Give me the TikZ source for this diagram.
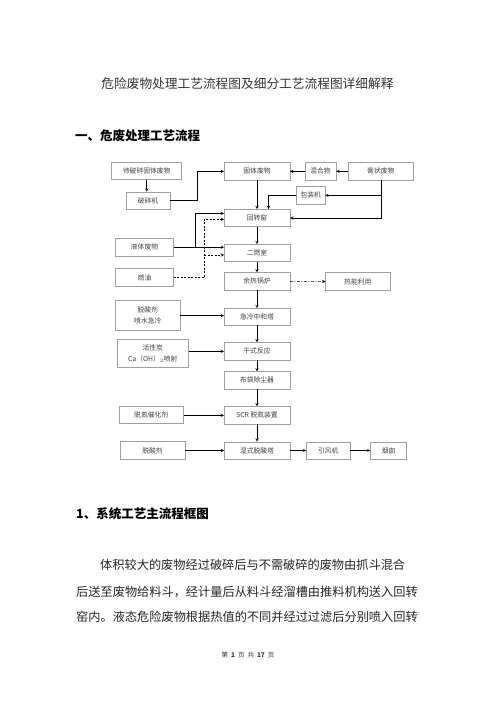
\documentclass[tikz,border=0pt]{standalone}
\usepackage{fontspec}
\newfontfamily\cjk{Noto Sans CJK SC}
\XeTeXlinebreaklocale "zh"
\XeTeXlinebreakskip=0pt plus 2pt
\usetikzlibrary{shadows}
\begin{document}
\begin{tikzpicture}[x=1pt,y=-1pt,>=stealth,font=\cjk,
    box/.style={draw=gray!75,line width=0.45pt,fill=white,inner sep=1pt,minimum height=17.3pt,
      font=\cjk\fontsize{6.8}{9}\selectfont,text=black!75,
      drop shadow={shadow xshift=0.7pt,shadow yshift=-0.7pt,fill=gray!80,opacity=1}},
    mainbox/.style={box,minimum width=65.5pt},
    flow/.style={->,line width=0.5pt},
    oilflow/.style={->,line width=0.5pt,dash pattern=on 2pt off 1.5pt}]
	\path[use as bounding box,fill=white] (0,0) rectangle (496,702);
	\node[font=\cjk\fontsize{12.7}{14}\selectfont,text=black!80] (title) at (247.5,83.3) {危险废物处理工艺流程图及细分工艺流程图详细解释};
	\node[anchor=west,inner sep=0,font=\cjk\bfseries\fontsize{12.5}{14}\selectfont] (heading) at (75,136) {一、危废处理工艺流程};
	\node[box,minimum width=70pt,minimum height=16.6pt] (crushwaste) at (146.7,171) {待破碎固体废物};
	\node[box,minimum width=44pt] (crusher) at (148,200.5) {破碎机};
	\node[mainbox] (solid) at (257,171.3) {固体废物};
	\node[box,minimum width=31pt] (mixture) at (320.5,171.3) {混合物};
	\node[box,minimum width=65pt] (paste) at (380.8,171.3) {膏状废物};
	\node[box,minimum width=28.3pt] (packer) at (310.8,195.3) {包装机};
	\node[mainbox] (kiln) at (257,218) {回转窑};
	\node[box,minimum width=57.6pt] (liquid) at (144.5,247.2) {液体废物};
	\node[mainbox] (chamber) at (257,253) {二燃室};
	\node[box,minimum width=57.6pt,minimum height=18.4pt] (fuel) at (144.5,277.5) {燃油};
	\node[mainbox] (boiler) at (257,281.3) {余热锅炉};
	\node[box,minimum width=64.3pt,minimum height=18pt] (heat) at (357.8,281.7) {热能利用};
	\node[box,minimum width=64.3pt,minimum height=30pt,align=center] (quenchin) at (147.8,315.7) {脱酸剂\\[2pt]喷水急冷};
	\node[mainbox,minimum height=16.7pt] (quench) at (257,316.7) {急冷中和塔};
	\node[box,minimum width=71pt,minimum height=28pt,align=center] (carbon) at (152.8,353.3) {活性炭\\[2pt]Ca（OH）$_2$喷射};
	\node[mainbox] (dry) at (257,351.3) {干式反应};
	\node[mainbox] (bag) at (257,380.3) {布袋除尘器};
	\node[box,minimum width=64.3pt,minimum height=16.7pt] (catalyst) at (151.2,415) {脱氮催化剂};
	\node[mainbox] (scr) at (257,415.3) {SCR 脱氮装置};
	\node[box,minimum width=65pt,minimum height=17.6pt] (alkali) at (152.5,450.5) {脱酸剂};
	\node[mainbox] (wet) at (257,450.5) {湿式脱酸塔};
	\node[box,minimum width=43.3pt] (fan) at (328.3,450.5) {引风机};
	\node[box,minimum width=36pt] (stack) at (388.7,450.5) {烟囱};
	\coordinate (kilnoil) at ([yshift=-1.3pt]kiln.west);
	\coordinate (chamberoil) at ([yshift=-2pt]chamber.west);
	\draw[flow] (crushwaste.south) -- (crushwaste.south |- crusher.north);
	\draw[flow] (crusher.east) -- ++(26.7,0) |- (solid.west);
	\draw[flow] (mixture) -- (solid);
	\draw[flow] (paste) -- (mixture);
	\draw[flow] (solid) -- (kiln);
	\draw[flow] (paste.south) |- (kiln.east);
	\draw[flow] (paste.south |- packer.east) -- (packer.east);
	\draw[flow] (packer.west) -| ([xshift=11.5pt]kiln.north);
	\draw[flow] (liquid.east) -- (liquid.east -| chamber.west);
	\draw[flow] ([xshift=21.7pt]liquid.east) |- ([yshift=4.7pt]kiln.west);
	\draw[oilflow] (fuel.east) -- ++(30.7,0) coordinate (fuelturn) |- (kilnoil);
	\draw[oilflow] (fuelturn |- chamberoil) -- (chamberoil);
	\draw[flow] (kiln) -- (chamber);
	\draw[flow] (chamber) -- (boiler);
	\draw[->,line width=0.5pt,dash pattern=on 3pt off 1.5pt on 1pt off 1.5pt] (boiler) -- (heat);
	\draw[flow] (boiler) -- (quench);
	\draw[flow] (quenchin.east) -- (quenchin.east -| quench.west);
	\draw[flow] (quench) -- (dry);
	\draw[flow] (carbon.east |- dry) -- (dry);
	\draw[flow] (dry) -- (bag);
	\draw[flow] (bag) -- (scr);
	\draw[flow] (catalyst.east |- scr) -- (scr);
	\draw[flow] (scr) -- (wet);
	\draw[flow] (alkali) -- (wet);
	\draw[flow] (wet) -- (fan);
	\draw[flow] (fan) -- (stack);
	\node[anchor=west,inner sep=0,font=\cjk\bfseries\fontsize{12.5}{14}\selectfont] (subheading) at (76,513.3) {1、系统工艺主流程框图};
	\node[anchor=west,inner sep=0,font=\cjk\fontsize{12.2}{14}\selectfont,text=black!85] (line1) at (100,565) {\makebox[319.3pt][s]{体积较大的废物经过破碎后与不需破碎的废物由抓斗混合}};
	\node[anchor=west,inner sep=0,font=\cjk\fontsize{12.2}{14}\selectfont,text=black!85] (line2) at (76,591.7) {\makebox[343.3pt][s]{后送至废物给料斗，经计量后从料斗经溜槽由推料机构送入回转}};
	\node[anchor=west,inner sep=0,font=\cjk\fontsize{12.2}{14}\selectfont,text=black!85] (line3) at (76,616.7) {\makebox[343.3pt][s]{窑内。液态危险废物根据热值的不同并经过过滤后分别喷入回转}};
	\node[font=\cjk\fontsize{6.5}{8}\selectfont,text=black!80] (footer) at (248,655) {第\hspace{3pt}\textbf{1}\hspace{3pt}页\hspace{3pt}共\hspace{3pt}\textbf{17}\hspace{3pt}页};
\end{tikzpicture}
\end{document}
